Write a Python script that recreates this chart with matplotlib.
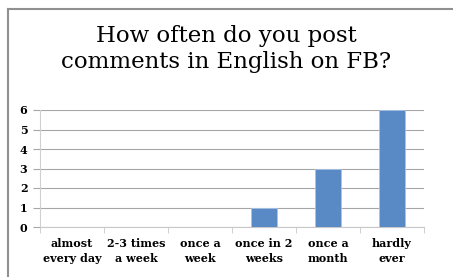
import matplotlib.pyplot as plt
from matplotlib.lines import Line2D

categories = ["almost\nevery day", "2-3 times\na week", "once a\nweek",
              "once in 2\nweeks", "once a\nmonth", "hardly\never"]
counts = [0, 0, 0, 1, 3, 6]
yticks = [0, 1, 2, 3, 4, 5, 6]

plt.rcParams['font.family'] = ['DejaVu Serif']

fig = plt.figure(figsize=(4.53, 2.77), dpi=100)
W, H = 453, 277
ax = fig.add_axes([40 / W, 1 - 227 / H, (424 - 40) / W, (227 - 110) / H])

x = list(range(len(categories)))
ax.bar(x, counts, width=0.4, color='#5a8ac6', edgecolor='#a8c4e6',
       linewidth=0.6, zorder=3)

ax.set_xlim(-0.5, len(categories) - 0.5)
ax.set_ylim(0, 6)
ax.set_yticks(yticks)
ax.yaxis.grid(True, color='#a6a6a6', linewidth=0.8, zorder=0)
ax.set_xticks(x)
ax.set_xticklabels(categories, fontsize=8, fontweight='bold',
                   linespacing=1.45)
ax.set_xticks([i - 0.5 for i in range(len(categories) + 1)], minor=True)
ax.tick_params(axis='x', which='major', length=0, pad=8)
ax.tick_params(axis='x', which='minor', length=4, color='#c8c8c8')
ax.tick_params(axis='y', length=5, color='#a6a6a6', labelsize=8, pad=4)
for lab in ax.get_yticklabels():
    lab.set_fontweight('bold')

for side in ['top', 'right']:
    ax.spines[side].set_visible(False)
ax.spines['left'].set_color('#d0d0d0')
ax.spines['bottom'].set_color('#c8c8c8')

fig.text(0.5, 1 - 49 / H, "How often do you post\ncomments in English on FB?",
         ha='center', va='center', fontsize=16.5, linespacing=1.25)

# slide border (left and top)
fig.add_artist(Line2D([8 / W, 8 / W], [0, 1 - 9 / H], color='#909090',
                      linewidth=1.5, transform=fig.transFigure))
fig.add_artist(Line2D([8 / W, 1], [1 - 9 / H, 1 - 9 / H], color='#909090',
                      linewidth=1.5, transform=fig.transFigure))

fig.savefig('out.png', dpi=100)
